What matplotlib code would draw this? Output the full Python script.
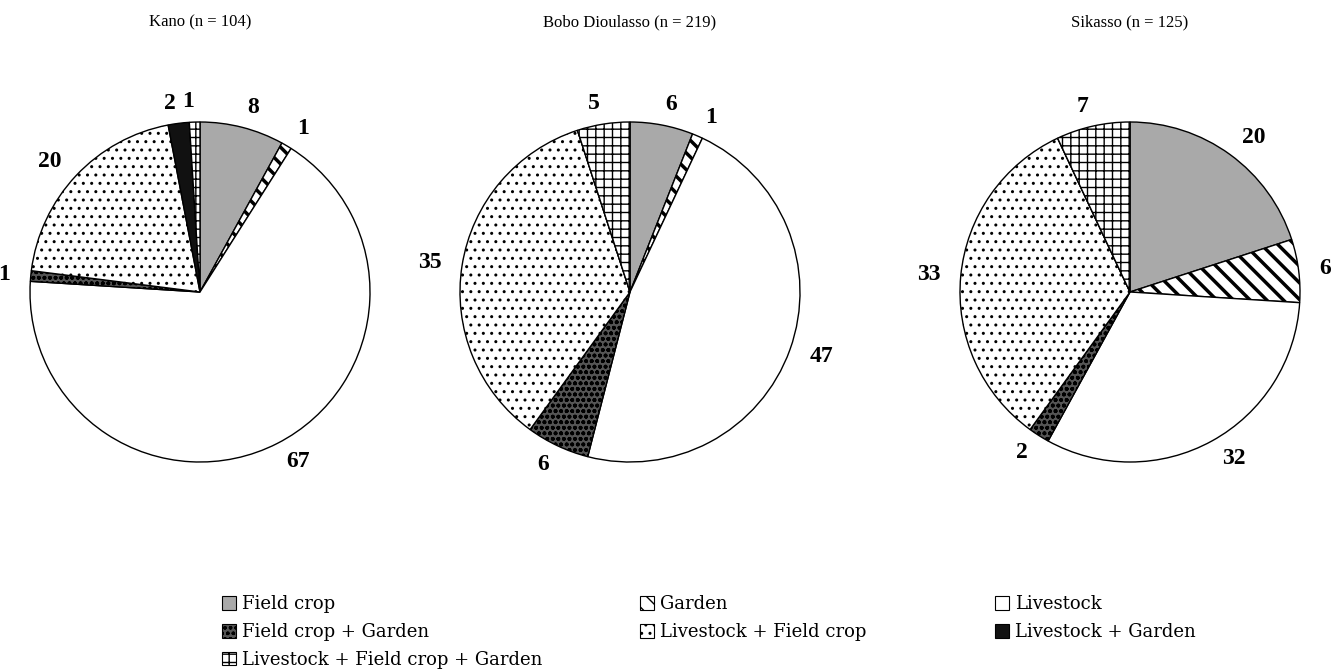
import matplotlib.pyplot as plt
from matplotlib.patches import Patch

plt.rcParams['hatch.linewidth'] = 1.0

sites = ['Kano (n = 104)', 'Bobo Dioulasso (n = 219)', 'Sikasso (n = 125)']
categories = ['Field crop', 'Garden', 'Livestock', 'Field crop + Garden',
              'Livestock + Field crop', 'Livestock + Garden',
              'Livestock + Field crop + Garden']
kano = [8, 1, 67, 1, 20, 2, 1]
bobo = [6, 1, 47, 6, 35, 0, 5]
sikasso = [20, 6, 32, 2, 33, 0, 7]

faces = ['#a9a9a9', 'white', 'white', '#555555', 'white', '#111111', 'white']
hatches = [None, '\\\\', None, 'ooo', '..', None, '++']
hatch_lw = [1, 2.5, 1, 1.2, 1, 1, 1]

fig = plt.figure(figsize=(13.33, 6.7), dpi=100)

centers = [200, 630, 1130]
r = 170
for site, vals, cx in zip(sites, [kano, bobo, sikasso], centers):
    ax = fig.add_axes([(cx - r) / 1333, (670 - 292 - r) / 670, 2 * r / 1333, 2 * r / 670])
    labels = [str(v) if v > 0 else '' for v in vals]
    wedges, texts = ax.pie(vals, labels=labels, startangle=90, counterclock=False,
                           colors=faces, labeldistance=1.12,
                           wedgeprops=dict(edgecolor='black', linewidth=1),
                           textprops=dict(fontsize=17, fontweight='bold',
                                          family='Liberation Serif'))
    for w, h, lw in zip(wedges, hatches, hatch_lw):
        if h:
            w.set_hatch(h)
            if hasattr(w, 'set_hatch_linewidth'):
                w.set_hatch_linewidth(lw)
    ax.set_xlim(-1, 1)
    ax.set_ylim(-1, 1)
    fig.text(cx / 1333, 1 - 22 / 670, site, ha='center', va='center',
             fontsize=12, family='Liberation Serif')

handles = [Patch(facecolor=f, edgecolor='black', hatch=h, linewidth=0.8)
           for f, h in zip(faces, hatches)]
columns = [[0, 3, 6], [1, 4], [2, 5]]
col_x = [222, 640, 995]
for idx, x in zip(columns, col_x):
    fig.legend([handles[i] for i in idx], [categories[i] for i in idx],
               loc='upper left', bbox_to_anchor=(x / 1333, 1 - 595 / 670),
               frameon=False, handlelength=0.8, handleheight=0.8,
               handletextpad=0.3, labelspacing=0.55, borderaxespad=0,
               borderpad=0, prop=dict(family='DejaVu Serif', size=13))

fig.savefig('out.png', dpi=100)
